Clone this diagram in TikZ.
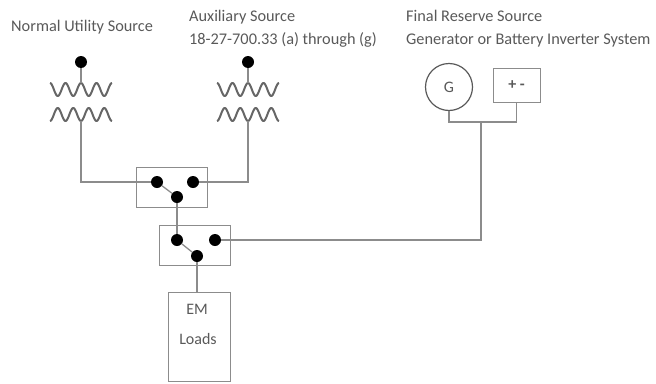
\documentclass[tikz,border=0pt]{standalone}
\usepackage{fontspec}
\setmainfont{Carlito}
\begin{document}
\begin{tikzpicture}[x=1pt,y=-1pt,
    wire/.style={draw=black!45,line width=1.3pt},
    coil/.style={draw=black!60,line width=2pt,line join=round},
    contact/.style={circle,fill=black,inner sep=0pt,minimum size=12pt},
    swbox/.style={draw=black!45,line width=1pt,minimum width=71pt,minimum height=40pt,inner sep=0pt},
    lbl/.style={text=black!65,font=\fontsize{16.3}{18}\selectfont,anchor=base west,inner sep=0pt},
    txt/.style={text=black!65,font=\fontsize{16}{18}\selectfont,inner sep=0pt}]
  \useasboundingbox (0,0) rectangle (656,383);
  % Labels
  \node[lbl] (normal) at (11,31) {Normal Utility Source};
  \node[lbl] (aux) at (189,21) {Auxiliary Source};
  \node[lbl] (auxref) at (189,44) {18-27-700.33 (a) through (g)};
  \node[lbl] (final) at (406,21) {Final Reserve Source};
  \node[lbl] (finalsys) at (406,44) {Generator or Battery Inverter System};
  % Transformers
  \foreach \x/\n in {81/t1,248/t2}{
    \node[contact] (\n dot) at (\x,62) {};
    \coordinate (\n top) at (\x,83);
    \coordinate (\n bot) at (\x,121);
    \draw[coil] plot[variable=\t,domain=-31:31,samples=90] ({\x+\t},{89.5-6.5*cos(360*\t/15.5)});
    \draw[coil] plot[variable=\t,domain=-31:31,samples=90] ({\x+\t},{114.5+6.5*cos(360*\t/15.5)});
    \draw[wire] (\n dot) -- (\n top);
  }
  % Transfer switches
  \node[swbox] (sw1) at (172,187.5) {};
  \node[contact] (sw1l) at (157,182) {};
  \node[contact] (sw1r) at (193,182) {};
  \node[contact] (sw1b) at (177,197) {};
  \node[swbox] (sw2) at (195,245.5) {};
  \node[contact] (sw2l) at (177,240) {};
  \node[contact] (sw2r) at (215,240) {};
  \node[contact] (sw2b) at (197,256) {};
  % Final reserve
  \node[circle,draw=black!65,line width=1.2pt,minimum size=47pt,txt] (gen) at (449,87) {G};
  \node[draw=black!45,line width=1pt,minimum width=47pt,minimum height=34pt,txt] (batt) at (516.5,85) {\textbf{+ -}};
  \coordinate (feed) at (481,122);
  % Loads
  \node[draw=black!45,line width=1pt,minimum width=62pt,minimum height=89pt] (loads) at (199,337) {};
  \node[txt] (em) at (197,309) {EM};
  \node[txt] (ld) at (198,339) {Loads};
  % Wiring
  \draw[wire] (t1bot) |- (sw1l);
  \draw[wire] (t2bot) |- (sw1r);
  \draw[wire] (sw1l) -- (sw1b);
  \draw[wire] (sw1b) -- (sw2l);
  \draw[wire] (sw2l) -- (sw2b);
  \draw[wire] (sw2r) -| (feed);
  \draw[wire] (gen.south) |- (feed) -| (batt.south);
  \draw[wire] (sw2b) -- (sw2b |- loads.north);
\end{tikzpicture}
\end{document}
